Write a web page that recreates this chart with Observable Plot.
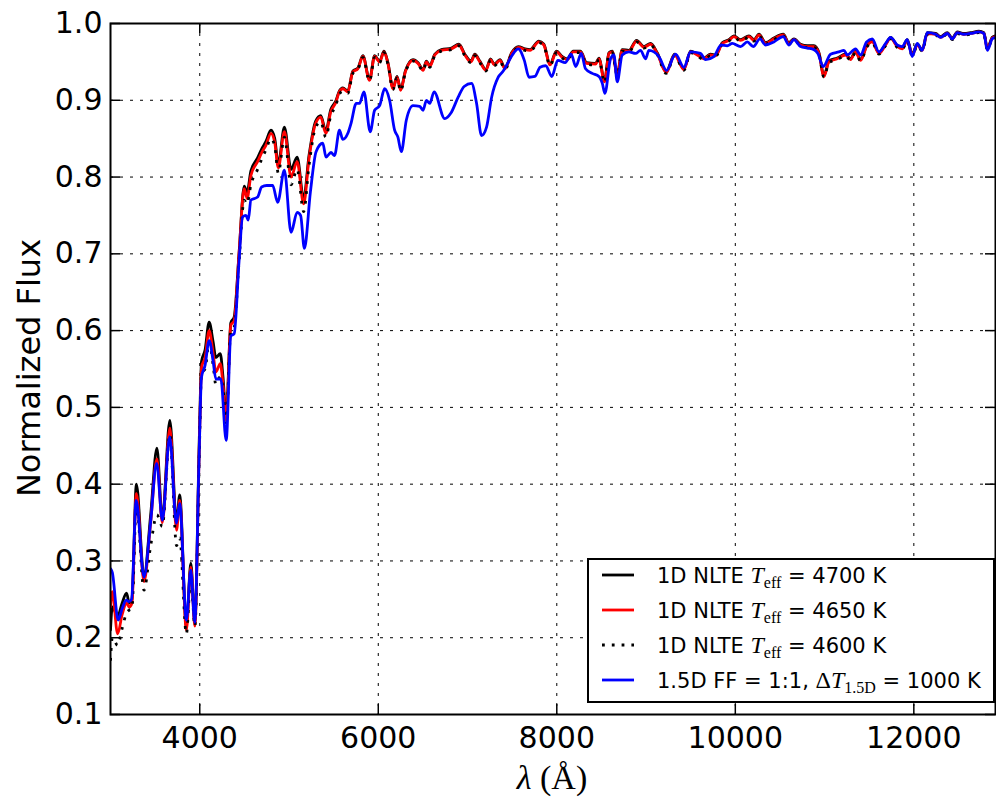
<!DOCTYPE html>
<html>
<head>
<meta charset="utf-8">
<script src="https://cdn.jsdelivr.net/npm/d3@7"></script>
<script src="https://cdn.jsdelivr.net/npm/@observablehq/plot@0.6"></script>
<style>
  html, body { margin: 0; padding: 0; background: white; }
  #wrap { position: relative; width: 996px; height: 802px; overflow: hidden; }
  #ylabel { position: absolute; left: 29px; top: 368px; transform: translate(-50%, -50%) rotate(-90deg);
            font-family: "DejaVu Sans"; font-size: 32px; white-space: nowrap; line-height: 1; color: #000; }
  #xlabel { position: absolute; left: 552px; top: 778px; transform: translate(-50%, -50%);
            font-family: "Liberation Serif", serif; font-size: 34px; white-space: nowrap; line-height: 1; color: #000; }
  #legend { position: absolute; left: 587px; top: 558px; width: 404px; height: 141px; border: 2px solid #000; background: #fff; }
  .row { position: absolute; left: 0; height: 26px; display: flex; align-items: center; font-family: "DejaVu Sans"; font-size: 21px; color: #000; white-space: nowrap; }
  .row svg { position: absolute; left: 12px; top: 11px; }
  .row .txt { position: absolute; left: 68px; top: 0; line-height: 26px; }
  .m { font-family: "Liberation Serif", serif; font-size: 24px; }
  .m sub { font-size: 16px; vertical-align: -5px; font-style: normal; }
</style>
</head>
<body>
<div id="wrap">
  <div id="chart"></div>
  <div id="ylabel">Normalized Flux</div>
  <div id="xlabel"><i>λ</i> (Å)</div>
  <div id="legend"></div>
</div>
<script>
// ---- tick values ----
const xTicks = [4000, 6000, 8000, 10000, 12000];
const yTicks = [0.1, 0.2, 0.3, 0.4, 0.5, 0.6, 0.7, 0.8, 0.9, 1.0];

// ---- 1D NLTE models (shared wavelength grid, Å) ----
const lam1D = [
  3000, 3020, 3080, 3130, 3180, 3210, 3240, 3290, 3375, 3450, 3520, 3580, 3665, 3740, 3775, 3850, 3900, 3945, 3995,
  4020, 4060, 4105, 4150, 4180, 4230, 4260, 4296, 4348, 4386, 4440, 4498, 4530, 4573, 4648, 4700, 4740, 4798, 4840, 4880,
  4948, 5023, 5091, 5164, 5224, 5299, 5356, 5412, 5468, 5524,
  5560, 5603, 5659, 5715, 5771, 5828, 5902, 5959, 6015, 6064, 6108, 6165, 6210, 6251, 6303, 6389, 6446, 6502, 6539, 6577,
  6633, 6708, 6820, 6903, 6970, 7037, 7082, 7138, 7206, 7258, 7299, 7363, 7419, 7494, 7569, 7644, 7700, 7799, 7855, 7923,
  7997, 8061, 8117, 8184, 8266, 8333, 8434, 8472, 8535, 8584, 8621, 8677, 8733, 8808, 8894, 8976, 9051, 9125, 9226, 9320,
  9424, 9499, 9573, 9648, 9723, 9779, 9854, 9928, 9984, 10059, 10153, 10209, 10265, 10339, 10432, 10537, 10600, 10657, 10731, 10806,
  10881, 10937, 10993, 11049, 11142, 11235, 11291, 11347, 11404, 11471, 11534, 11609, 11684, 11740, 11814, 11870, 11926, 11982, 12038, 12094,
  12151, 12244, 12300, 12375, 12431, 12487, 12561, 12636, 12729, 12785, 12823, 12879, 12915
];
const flux4700 = [
  0.21, 0.24, 0.228, 0.245, 0.258, 0.245, 0.25, 0.40, 0.28, 0.36, 0.447, 0.355, 0.483, 0.35, 0.386, 0.215, 0.297, 0.22, 0.46,
  0.56, 0.575, 0.611, 0.585, 0.565, 0.57, 0.54, 0.49, 0.61, 0.618, 0.70, 0.788, 0.78, 0.808, 0.825, 0.838, 0.846, 0.861, 0.85, 0.817,
  0.865, 0.81, 0.826, 0.772, 0.828, 0.873, 0.88, 0.86, 0.888, 0.899,
  0.911, 0.916, 0.912, 0.938, 0.942, 0.958, 0.927, 0.958, 0.951, 0.964, 0.949, 0.916, 0.931, 0.914, 0.938, 0.953, 0.949, 0.94, 0.951, 0.945,
  0.96, 0.966, 0.968, 0.973, 0.96, 0.951, 0.96, 0.951, 0.94, 0.954, 0.947, 0.953, 0.942, 0.962, 0.97, 0.967, 0.966, 0.977, 0.973, 0.947,
  0.964, 0.957, 0.954, 0.964, 0.964, 0.949, 0.948, 0.955, 0.925, 0.962, 0.964, 0.934, 0.966, 0.965, 0.978, 0.97, 0.974, 0.962, 0.937, 0.96,
  0.941, 0.964, 0.96, 0.955, 0.96, 0.959, 0.975, 0.979, 0.984, 0.979, 0.984, 0.979, 0.986, 0.975, 0.981, 0.986, 0.975, 0.98, 0.973, 0.971,
  0.971, 0.962, 0.932, 0.951, 0.955, 0.96, 0.954, 0.964, 0.953, 0.971, 0.977, 0.962, 0.973, 0.982, 0.971, 0.968, 0.979, 0.96, 0.973, 0.966,
  0.988, 0.987, 0.983, 0.988, 0.981, 0.989, 0.987, 0.988, 0.99, 0.988, 0.968, 0.982, 0.984
];
const flux4650 = [
  0.24, 0.26, 0.205, 0.23, 0.245, 0.24, 0.245, 0.388, 0.273, 0.35, 0.433, 0.35, 0.473, 0.34, 0.379, 0.21, 0.292, 0.215, 0.45,
  0.552, 0.565, 0.60, 0.57, 0.546, 0.557, 0.53, 0.483, 0.607, 0.613, 0.70, 0.785, 0.772, 0.802, 0.82, 0.833, 0.841, 0.857, 0.845, 0.812,
  0.859, 0.80, 0.82, 0.765, 0.824, 0.87, 0.878, 0.857, 0.885, 0.897,
  0.91, 0.915, 0.911, 0.937, 0.941, 0.957, 0.926, 0.957, 0.95, 0.963, 0.948, 0.915, 0.93, 0.913, 0.937, 0.952, 0.948, 0.939, 0.95, 0.944,
  0.959, 0.965, 0.967, 0.972, 0.959, 0.95, 0.959, 0.95, 0.939, 0.953, 0.946, 0.952, 0.941, 0.961, 0.969, 0.966, 0.965, 0.976, 0.972, 0.946,
  0.963, 0.956, 0.953, 0.963, 0.963, 0.948, 0.947, 0.954, 0.924, 0.961, 0.963, 0.933, 0.965, 0.964, 0.977, 0.969, 0.973, 0.961, 0.936, 0.959,
  0.94, 0.963, 0.959, 0.954, 0.959, 0.958, 0.974, 0.978, 0.983, 0.978, 0.983, 0.978, 0.985, 0.974, 0.98, 0.985, 0.974, 0.979, 0.972, 0.97,
  0.97, 0.961, 0.931, 0.95, 0.954, 0.959, 0.953, 0.963, 0.952, 0.97, 0.976, 0.961, 0.972, 0.981, 0.97, 0.967, 0.978, 0.959, 0.972, 0.965,
  0.987, 0.986, 0.982, 0.987, 0.98, 0.988, 0.986, 0.987, 0.989, 0.987, 0.967, 0.981, 0.983
];
const flux4600 = [
  0.17, 0.2, 0.19, 0.212, 0.232, 0.236, 0.238, 0.375, 0.262, 0.32, 0.36, 0.345, 0.465, 0.32, 0.33, 0.205, 0.28, 0.215, 0.44,
  0.545, 0.55, 0.585, 0.555, 0.53, 0.54, 0.525, 0.48, 0.6, 0.605, 0.69, 0.77, 0.765, 0.79, 0.81, 0.825, 0.835, 0.85, 0.84, 0.805,
  0.852, 0.79, 0.81, 0.755, 0.815, 0.865, 0.872, 0.852, 0.88, 0.893,
  0.907, 0.912, 0.909, 0.935, 0.94, 0.956, 0.925, 0.956, 0.949, 0.962, 0.947, 0.914, 0.929, 0.912, 0.936, 0.951, 0.947, 0.938, 0.949, 0.943,
  0.958, 0.964, 0.966, 0.971, 0.958, 0.949, 0.958, 0.949, 0.938, 0.952, 0.945, 0.951, 0.94, 0.96, 0.968, 0.965, 0.964, 0.975, 0.971, 0.945,
  0.962, 0.955, 0.952, 0.962, 0.962, 0.947, 0.946, 0.953, 0.923, 0.96, 0.962, 0.932, 0.964, 0.963, 0.976, 0.968, 0.972, 0.96, 0.935, 0.958,
  0.939, 0.962, 0.958, 0.953, 0.958, 0.957, 0.973, 0.977, 0.982, 0.977, 0.982, 0.977, 0.984, 0.973, 0.979, 0.984, 0.973, 0.978, 0.971, 0.969,
  0.969, 0.96, 0.93, 0.949, 0.953, 0.958, 0.952, 0.962, 0.951, 0.969, 0.975, 0.96, 0.971, 0.98, 0.969, 0.966, 0.977, 0.958, 0.971, 0.964,
  0.986, 0.985, 0.981, 0.986, 0.979, 0.987, 0.985, 0.986, 0.988, 0.986, 0.966, 0.98, 0.982
];

// ---- 1.5D FF = 1:1 model ----
const lam15D = [
  3000, 3020, 3086, 3131, 3176, 3206, 3236, 3288, 3375, 3449, 3517, 3581, 3663, 3738, 3775, 3850, 3899, 3944, 3992,
  4019, 4060, 4105, 4150, 4180, 4236, 4296, 4348, 4386, 4440, 4480, 4517, 4543, 4573, 4648, 4693, 4750, 4817, 4873, 4948,
  5023, 5091, 5130, 5172, 5240, 5303, 5378, 5415, 5470, 5510, 5565, 5603, 5659, 5695, 5753, 5790, 5839, 5910, 5959, 6015,
  6071, 6127, 6183, 6220, 6258, 6314, 6389, 6464, 6502, 6539, 6577, 6625, 6745, 6812, 6895, 6962, 7045, 7101, 7157, 7213,
  7270, 7344, 7400, 7449, 7502, 7569, 7636, 7689, 7755, 7813, 7876, 7944, 8011, 8094, 8161, 8213, 8274, 8322, 8397, 8472,
  8510, 8539, 8602, 8640, 8677, 8733, 8808, 8882, 8938, 8994, 9032, 9088, 9144, 9230, 9330, 9424, 9499, 9611, 9666, 9760,
  9842, 9910, 9966, 10059, 10134, 10201, 10276, 10339, 10432, 10537, 10600, 10657, 10731, 10806, 10881, 10925, 10985, 11067, 11160, 11217,
  11254, 11347, 11404, 11471, 11534, 11609, 11684, 11740, 11814, 11870, 11926, 11982, 12038, 12094, 12151, 12244, 12300, 12375, 12431, 12487,
  12561, 12636, 12729, 12785, 12823, 12879, 12915
];
const flux15D = [
  0.29, 0.285, 0.223, 0.238, 0.249, 0.247, 0.25, 0.379, 0.279, 0.35, 0.427, 0.353, 0.462, 0.349, 0.375, 0.223, 0.288, 0.22, 0.433,
  0.539, 0.555, 0.587, 0.56, 0.537, 0.537, 0.457, 0.593, 0.596, 0.69, 0.748, 0.75, 0.744, 0.770, 0.774, 0.787, 0.789, 0.789, 0.767, 0.809,
  0.728, 0.754, 0.75, 0.707, 0.781, 0.833, 0.844, 0.826, 0.832, 0.828, 0.861, 0.849, 0.857, 0.87, 0.896, 0.896, 0.911, 0.859, 0.887, 0.893,
  0.915, 0.9, 0.861, 0.852, 0.833, 0.874, 0.893, 0.892, 0.887, 0.9, 0.896, 0.911, 0.876, 0.883, 0.904, 0.918, 0.922, 0.896, 0.854, 0.865,
  0.904, 0.93, 0.938, 0.948, 0.959, 0.967, 0.952, 0.93, 0.931, 0.943, 0.945, 0.931, 0.952, 0.949, 0.96, 0.944, 0.961, 0.941, 0.935, 0.931,
  0.922, 0.909, 0.954, 0.959, 0.924, 0.959, 0.963, 0.961, 0.965, 0.954, 0.965, 0.963, 0.957, 0.939, 0.96, 0.943, 0.963, 0.961, 0.953, 0.957,
  0.972, 0.971, 0.974, 0.97, 0.976, 0.97, 0.98, 0.972, 0.976, 0.983, 0.972, 0.979, 0.97, 0.968, 0.966, 0.961, 0.944, 0.96, 0.963, 0.965,
  0.959, 0.967, 0.959, 0.976, 0.98, 0.963, 0.974, 0.982, 0.972, 0.97, 0.979, 0.957, 0.974, 0.965, 0.988, 0.986, 0.982, 0.987, 0.98, 0.988,
  0.986, 0.987, 0.989, 0.987, 0.965, 0.98, 0.982
];

const seriesNames = ["1D NLTE 4700 K", "1D NLTE 4650 K", "1D NLTE 4600 K", "1.5D FF = 1:1"];

const toRows = (lam, flux, name) => lam.map((l, i) => ({lam: l, flux: flux[i], series: name}));
const d4700 = toRows(lam1D, flux4700, seriesNames[0]);
const d4650 = toRows(lam1D, flux4650, seriesNames[1]);
const d4600 = toRows(lam1D, flux4600, seriesNames[2]);
const d15D  = toRows(lam15D, flux15D, seriesNames[3]);

const W = 996, H = 802, mL = 110, mR = 1, mT = 23, mB = 88;
const pw = W - mL - mR, ph = H - mT - mB;
const lw = 2.8;
const curve = "monotone-x";

const chart = Plot.plot({
  width: W, height: H,
  marginLeft: mL, marginRight: mR, marginTop: mT, marginBottom: mB,
  style: {fontFamily: "DejaVu Sans", background: "white", color: "black"},
  x: {domain: [3000, 12915]},
  y: {domain: [0.1, 1.0]},
  marks: [
    Plot.ruleX(xTicks, {x: d => d, stroke: "black", strokeWidth: 1, strokeDasharray: "3,7"}),
    Plot.ruleY(yTicks, {y: d => d, stroke: "black", strokeWidth: 1, strokeDasharray: "3,7"}),
    Plot.line(d4700, {x: "lam", y: "flux", stroke: "black", strokeWidth: lw, curve, clip: true}),
    Plot.line(d4650, {x: "lam", y: "flux", stroke: "#ff0000", strokeWidth: lw, curve, clip: true}),
    Plot.line(d4600, {x: "lam", y: "flux", stroke: "black", strokeWidth: lw, strokeDasharray: "2.8,7", strokeLinecap: "butt", curve, clip: true}),
    Plot.line(d15D, {x: "lam", y: "flux", stroke: "#0000ff", strokeWidth: lw, curve, clip: true}),
    Plot.tickX(xTicks, {x: d => d, insetTop: ph - 10, stroke: "black", strokeWidth: 1.5}),
    Plot.tickX(xTicks, {x: d => d, insetBottom: ph - 10, stroke: "black", strokeWidth: 1.5}),
    Plot.tickY(yTicks, {y: d => d, insetRight: pw - 10, stroke: "black", strokeWidth: 1.5}),
    Plot.tickY(yTicks, {y: d => d, insetLeft: pw - 10, stroke: "black", strokeWidth: 1.5}),
    Plot.axisX(xTicks, {tickSize: 0, tickPadding: 12, fontSize: 30, label: null, tickFormat: d => String(d)}),
    Plot.axisY(yTicks, {tickSize: 0, tickPadding: 8, fontSize: 30, label: null, tickFormat: d => d.toFixed(1)}),
    Plot.frame({stroke: "black", strokeWidth: 2})
  ]
});
document.getElementById("chart").appendChild(chart);

// ---- legend ----
const legendItems = [
  {stroke: "black", dash: null, html: '1D NLTE <span class="m"><i>T</i><sub>eff</sub></span> = 4700 K'},
  {stroke: "#ff0000", dash: null, html: '1D NLTE <span class="m"><i>T</i><sub>eff</sub></span> = 4650 K'},
  {stroke: "black", dash: "2.8,7", html: '1D NLTE <span class="m"><i>T</i><sub>eff</sub></span> = 4600 K'},
  {stroke: "#0000ff", dash: null, html: '1.5D FF = 1:1, <span class="m">Δ<i>T</i><sub>1.5D</sub></span> = 1000 K'}
];
const legend = document.getElementById("legend");
legendItems.forEach((it, i) => {
  const row = document.createElement("div");
  row.className = "row";
  row.style.top = (2 + 35 * i) + "px";
  row.style.width = "402px";
  row.innerHTML =
    `<svg width="34" height="4"><line x1="1" y1="2" x2="33" y2="2" stroke="${it.stroke}" stroke-width="2.8"${it.dash ? ` stroke-dasharray="${it.dash}"` : ""}/></svg>` +
    `<span class="txt">${it.html}</span>`;
  legend.appendChild(row);
});
</script>
</body>
</html>
